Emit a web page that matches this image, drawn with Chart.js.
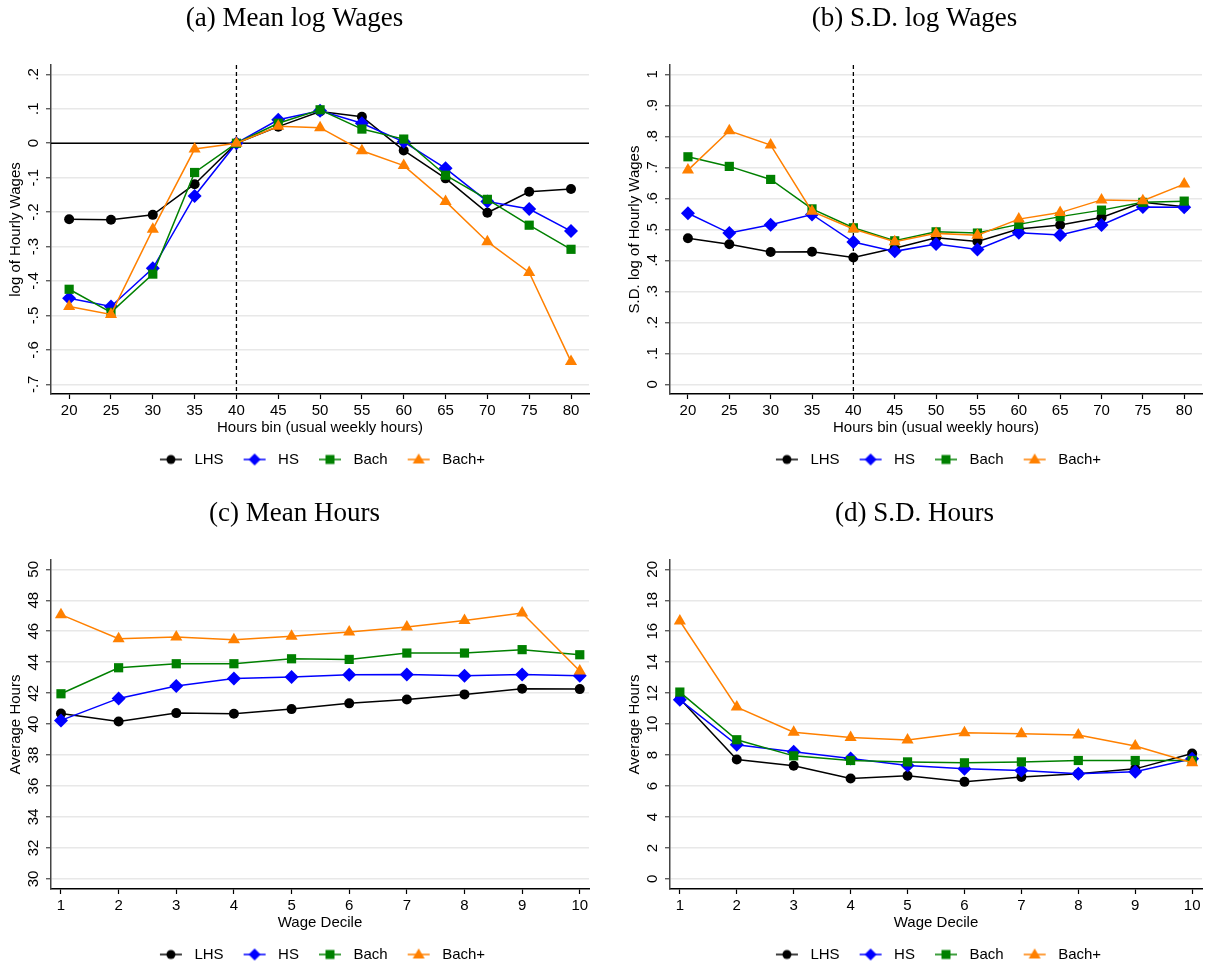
<!DOCTYPE html>
<html>
<head>
<meta charset="utf-8">
<script src="https://cdn.jsdelivr.net/npm/chart.js@4.4.1/dist/chart.umd.min.js"></script>
<style>
  body { margin: 0; background: #fff; overflow: hidden; width: 1209px; height: 965px; position: relative; }
  canvas { position: absolute; }
</style>
</head>
<body>
<canvas id="chartA" width="600" height="478" style="left:0;top:0"></canvas>
<canvas id="chartB" width="589" height="478" style="left:620px;top:0"></canvas>
<canvas id="chartC" width="600" height="478" style="left:0;top:495px"></canvas>
<canvas id="chartD" width="589" height="478" style="left:620px;top:495px"></canvas>
<script>
// categories
const seriesNames = ["LHS", "HS", "Bach", "Bach+"]
const hoursBins = [20, 25, 30, 35, 40, 45, 50, 55, 60, 65, 70, 75, 80]
const wageDeciles = [1, 2, 3, 4, 5, 6, 7, 8, 9, 10]

// (a) mean log wages, relative to 40 hours
const meanLogLHS = [-0.221, -0.222, -0.208, -0.119, 0, 0.048, 0.092, 0.077, -0.021, -0.102, -0.202, -0.141, -0.133]
const meanLogHS = [-0.450, -0.474, -0.363, -0.153, 0, 0.068, 0.094, 0.058, 0.004, -0.073, -0.169, -0.191, -0.255]
const meanLogBach = [-0.424, -0.491, -0.380, -0.085, 0, 0.058, 0.097, 0.041, 0.012, -0.093, -0.163, -0.238, -0.308]
const meanLogBachPlus = [-0.474, -0.497, -0.250, -0.017, 0, 0.049, 0.045, -0.022, -0.065, -0.169, -0.286, -0.375, -0.634]

// (b) s.d. log wages
const sdLogLHS = [0.471, 0.452, 0.427, 0.428, 0.409, 0.439, 0.473, 0.461, 0.501, 0.514, 0.538, 0.587, 0.573]
const sdLogHS = [0.552, 0.488, 0.515, 0.548, 0.459, 0.429, 0.453, 0.435, 0.489, 0.482, 0.514, 0.572, 0.571]
const sdLogBach = [0.734, 0.703, 0.661, 0.566, 0.505, 0.463, 0.492, 0.488, 0.516, 0.541, 0.562, 0.587, 0.591]
const sdLogBachPlus = [0.691, 0.818, 0.772, 0.558, 0.501, 0.460, 0.487, 0.481, 0.533, 0.554, 0.595, 0.592, 0.646]

// (c) mean hours by wage decile
const meanHoursLHS = [40.69, 40.17, 40.71, 40.67, 40.97, 41.34, 41.59, 41.92, 42.28, 42.26]
const meanHoursHS = [40.24, 41.66, 42.46, 42.95, 43.04, 43.19, 43.21, 43.12, 43.21, 43.12]
const meanHoursBach = [41.96, 43.64, 43.90, 43.90, 44.22, 44.18, 44.59, 44.59, 44.81, 44.48]
const meanHoursBachPlus = [47.07, 45.52, 45.63, 45.45, 45.67, 45.95, 46.27, 46.70, 47.18, 43.43]

// (d) s.d. hours by wage decile
const sdHoursLHS = [11.64, 7.72, 7.31, 6.49, 6.66, 6.27, 6.59, 6.79, 7.11, 8.10]
const sdHoursHS = [11.57, 8.66, 8.21, 7.78, 7.33, 7.11, 7.00, 6.79, 6.92, 7.76]
const sdHoursBach = [12.07, 8.99, 7.95, 7.65, 7.56, 7.50, 7.56, 7.65, 7.65, 7.65]
const sdHoursBachPlus = [16.66, 11.10, 9.48, 9.14, 8.97, 9.44, 9.38, 9.29, 8.58, 7.50]

// tick labels
const meanLogTicks = [0.2, 0.1, 0, -0.1, -0.2, -0.3, -0.4, -0.5, -0.6, -0.7]
const sdLogTicks = [0, 0.1, 0.2, 0.3, 0.4, 0.5, 0.6, 0.7, 0.8, 0.9, 1]
const meanHoursTicks = [30, 32, 34, 36, 38, 40, 42, 44, 46, 48, 50]
const sdHoursTicks = [0, 2, 4, 6, 8, 10, 12, 14, 16, 18, 20]

const colors = ["#000000", "#0000ff", "#008000", "#ff8000"]
const styles = ["circle", "rectRot", "rect", "triangle"]
const radii = [5, 7, 6.5, 7]

const sansFont = '"Liberation Sans", Arial, sans-serif'
Chart.defaults.font.family = sansFont
Chart.defaults.font.size = 15
Chart.defaults.color = "#000"

// stata-like decimal labels: .2, -.1, 0
function stataNum(v) {
    if (v === 0) return "0"
    let s = String(Math.abs(v)).replace(/^0\./, ".")
    return (v < 0 ? "-" : "") + s
}

// legend icons: short line with marker in the middle
function legendIcon(i) {
    const c = document.createElement("canvas")
    c.width = 32
    c.height = 16
    const g = c.getContext("2d")
    g.strokeStyle = colors[i]
    g.fillStyle = colors[i]
    g.lineWidth = 1.5
    g.beginPath()
    g.moveTo(5, 8)
    g.lineTo(27, 8)
    g.stroke()
    const cx = 16, cy = 8
    g.beginPath()
    if (i === 0) {
        g.arc(cx, cy, 4.5, 0, Math.PI * 2)
    } else if (i === 1) {
        g.moveTo(cx, cy - 6); g.lineTo(cx + 6, cy); g.lineTo(cx, cy + 6); g.lineTo(cx - 6, cy)
    } else if (i === 2) {
        g.rect(cx - 4.5, cy - 4.5, 9, 9)
    } else {
        g.moveTo(cx, cy - 6); g.lineTo(cx + 6, cy + 4); g.lineTo(cx - 6, cy + 4)
    }
    g.closePath()
    g.fill()
    return c
}
const legendIcons = seriesNames.map((n, i) => legendIcon(i))

// rotated y tick labels + reference lines
const stataExtras = {
    id: "stataExtras",
    beforeDatasetsDraw(chart, args, opts) {
        const ctx = chart.ctx
        const area = chart.chartArea
        const x = chart.scales.x, y = chart.scales.y
        ctx.save()
        ctx.strokeStyle = "#000"
        if (opts.zeroLine) {
            const py = y.getPixelForValue(0)
            ctx.lineWidth = 1.5
            ctx.beginPath()
            ctx.moveTo(area.left, py)
            ctx.lineTo(area.right, py)
            ctx.stroke()
        }
        if (opts.vLine != null) {
            const px = x.getPixelForValue(opts.vLine)
            ctx.lineWidth = 1.3
            ctx.setLineDash([4, 3])
            ctx.beginPath()
            ctx.moveTo(px, area.top)
            ctx.lineTo(px, area.bottom)
            ctx.stroke()
        }
        ctx.restore()
    },
    afterDraw(chart, args, opts) {
        const ctx = chart.ctx
        const y = chart.scales.y
        ctx.save()
        ctx.font = "15px " + sansFont
        ctx.fillStyle = "#000"
        ctx.textAlign = "center"
        ctx.textBaseline = "middle"
        y.ticks.forEach((t) => {
            ctx.save()
            ctx.translate(y.right - 17, y.getPixelForValue(t.value))
            ctx.rotate(-Math.PI / 2)
            ctx.fillText(opts.fmt(t.value), 0, 0)
            ctx.restore()
        })
        ctx.restore()
    }
}

function makePanel(canvasId, cfg) {
    const datasets = cfg.series.map((vals, i) => ({
        label: seriesNames[i],
        data: cfg.xs.map((xv, j) => ({ x: xv, y: vals[j] })),
        borderColor: colors[i],
        backgroundColor: colors[i],
        borderWidth: 1.5,
        pointStyle: styles[i],
        pointRadius: radii[i],
        pointHoverRadius: radii[i],
        pointBorderWidth: 0,
        pointBackgroundColor: colors[i],
        tension: 0,
        order: 4 - i
    }))

    new Chart(document.getElementById(canvasId), {
        type: "line",
        data: { datasets },
        options: {
            responsive: false,
            animation: false,
            layout: { padding: { left: 0, right: cfg.padRight, top: 0, bottom: 1 } },
            scales: {
                x: {
                    type: "linear",
                    min: cfg.xMin,
                    max: cfg.xMax,
                    afterBuildTicks: (s) => { s.ticks = cfg.xs.map((v) => ({ value: v })) },
                    afterFit: (s) => { s.height = 43 },
                    ticks: { padding: 3, color: "#000", font: { size: 15 } },
                    grid: { drawOnChartArea: false, drawTicks: true, tickLength: 5, tickColor: "#000", tickWidth: 1.2 },
                    border: { color: "#000", width: 1.5 },
                    title: { display: true, text: cfg.xTitle, color: "#000", font: { size: 15 }, padding: { top: 0, bottom: 0 } }
                },
                y: {
                    type: "linear",
                    min: cfg.yMin,
                    max: cfg.yMax,
                    afterBuildTicks: (s) => { s.ticks = cfg.yTicks.map((v) => ({ value: v })) },
                    afterFit: (s) => { s.width = cfg.yWidth },
                    ticks: { display: false },
                    grid: { color: "#e8e8e8", lineWidth: 1.5, drawTicks: true, tickLength: 5, tickColor: "#444", tickWidth: 1.2 },
                    border: { color: "#444", width: 1.5 },
                    title: { display: true, text: cfg.yTitle, color: "#000", font: { size: 15 }, padding: { top: cfg.yTitlePad, bottom: 0 } }
                }
            },
            plugins: {
                title: {
                    display: true,
                    text: cfg.title,
                    color: "#000",
                    font: { family: '"Liberation Serif", "Times New Roman", serif', size: 27, weight: "normal" },
                    padding: { top: 3, bottom: 29.6 }
                },
                legend: {
                    position: "bottom",
                    fullSize: false,
                    labels: {
                        usePointStyle: true,
                        pointStyleWidth: 32,
                        padding: 15,
                        color: "#000",
                        font: { size: 15 },
                        sort: (a, b) => a.datasetIndex - b.datasetIndex,
                        generateLabels: (chart) => {
                            const items = Chart.defaults.plugins.legend.labels.generateLabels(chart)
                            items.forEach((it) => { it.pointStyle = legendIcons[it.datasetIndex] })
                            return items
                        }
                    }
                },
                tooltip: { enabled: false },
                stataExtras: { zeroLine: cfg.zeroLine, vLine: cfg.vLine, fmt: cfg.fmt }
            }
        },
        plugins: [stataExtras]
    })
}

makePanel("chartA", {
    title: "(a) Mean log Wages",
    xs: hoursBins,
    series: [meanLogLHS, meanLogHS, meanLogBach, meanLogBachPlus],
    xMin: 17.83, xMax: 82.15,
    yMin: -0.728, yMax: 0.227,
    yTicks: meanLogTicks,
    fmt: stataNum,
    xTitle: "Hours bin (usual weekly hours)",
    yTitle: "log of Hourly Wages",
    yWidth: 51, yTitlePad: 7, padRight: 11,
    zeroLine: true, vLine: 40
})

makePanel("chartB", {
    title: "(b) S.D. log Wages",
    xs: hoursBins,
    series: [sdLogLHS, sdLogHS, sdLogBach, sdLogBachPlus],
    xMin: 17.83, xMax: 82.15,
    yMin: -0.031, yMax: 1.03,
    yTicks: sdLogTicks,
    fmt: stataNum,
    xTitle: "Hours bin (usual weekly hours)",
    yTitle: "S.D. log of Hourly Wages",
    yWidth: 50, yTitlePad: 6, padRight: 0,
    zeroLine: false, vLine: 40
})

makePanel("chartC", {
    title: "(c) Mean Hours",
    xs: wageDeciles,
    series: [meanHoursLHS, meanHoursHS, meanHoursBach, meanHoursBachPlus],
    xMin: 0.827, xMax: 10.16,
    yMin: 29.35, yMax: 50.6,
    yTicks: meanHoursTicks,
    fmt: (v) => String(v),
    xTitle: "Wage Decile",
    yTitle: "Average Hours",
    yWidth: 51, yTitlePad: 7, padRight: 11,
    zeroLine: false, vLine: null
})

makePanel("chartD", {
    title: "(d) S.D. Hours",
    xs: wageDeciles,
    series: [sdHoursLHS, sdHoursHS, sdHoursBach, sdHoursBachPlus],
    xMin: 0.827, xMax: 10.173,
    yMin: -0.65, yMax: 20.6,
    yTicks: sdHoursTicks,
    fmt: (v) => String(v),
    xTitle: "Wage Decile",
    yTitle: "Average Hours",
    yWidth: 50, yTitlePad: 6, padRight: 0,
    zeroLine: false, vLine: null
})
</script>
</body>
</html>
